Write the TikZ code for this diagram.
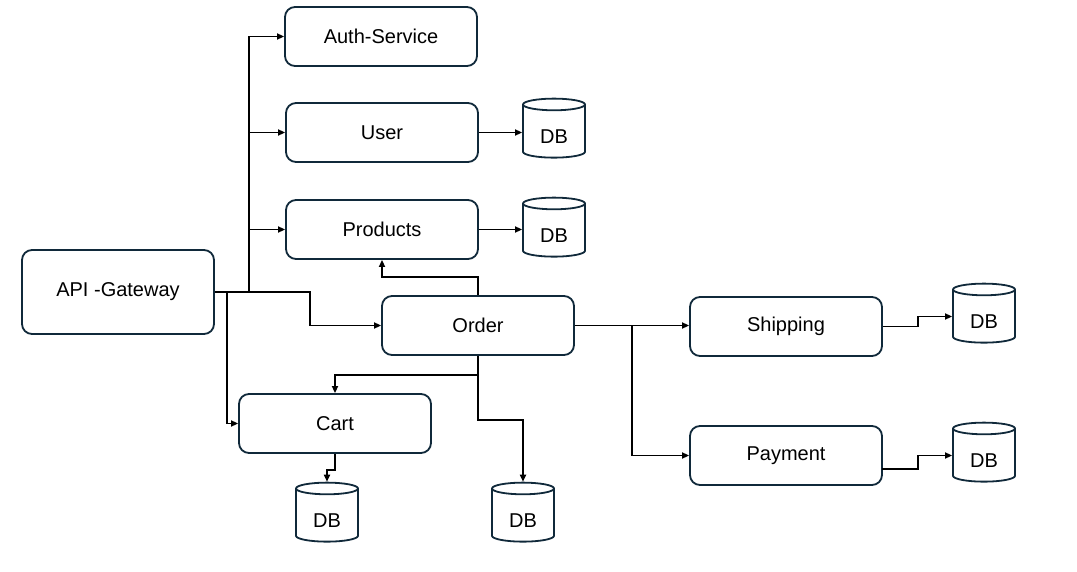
\documentclass[tikz,border=0pt]{standalone}
\usepackage{fontspec}
\setmainfont{Liberation Sans}
\usetikzlibrary{shapes.geometric,arrows.meta}
\definecolor{boxc}{HTML}{10293A}
\newcommand{\dbtext}{\raisebox{-12pt}[0pt][0pt]{DB}}
\begin{document}
\begin{tikzpicture}[x=1pt,y=-1pt,
  svc/.style={draw=boxc,line width=1.8pt,rounded corners=10pt,minimum width=192pt,minimum height=59pt,inner sep=0pt,font=\fontsize{20}{22}\selectfont},
  dbs/.style={draw=boxc,line width=1.8pt,cylinder,shape border rotate=90,aspect=0.42,minimum width=62pt,minimum height=59pt,inner sep=0pt,font=\fontsize{20}{22}\selectfont},
  conn/.style={line width=1.6pt,-{Triangle[length=7pt,width=6pt]}},
  plain/.style={line width=1.6pt}]
\useasboundingbox (0,0) rectangle (1077,572);
\node[svc] (auth) at (381,36.5) {Auth-Service};
\node[svc] (user) at (382,132.5) {User};
\node[svc] (prod) at (382,229.5) {Products};
\node[svc,minimum height=84pt] (api) at (118,292) {API -Gateway};
\node[svc] (order) at (478,325.5) {Order};
\node[svc] (cart) at (335,423.5) {Cart};
\node[svc] (ship) at (786,326.5) {Shipping};
\node[svc] (pay) at (786,455.5) {Payment};
\node[dbs] (dbuser) at (554,131.5) {\dbtext};
\node[dbs] (dbprod) at (554,230.5) {\dbtext};
\node[dbs] (dbship) at (984,316.5) {\dbtext};
\node[dbs] (dbpay) at (984,455.5) {\dbtext};
\node[dbs] (dbcart) at (327,515.5) {\dbtext};
\node[dbs] (dborder) at (523,515.5) {\dbtext};
\coordinate (j1) at (249,292);
\coordinate (j2) at (227,292);
% API gateway fan-out
\draw[plain] (api.east) -- (j1);
\draw[conn] (j1) |- (auth.west);
\draw[conn] (j1) |- (user.west);
\draw[conn] (j1) |- (prod.west);
\draw[conn] (api.east) -- (310,292) |- (order.west);
\draw[conn] (j2) |- (cart.west);
% DB links
\draw[conn] (user.east) -- (user.east -| dbuser.west);
\draw[conn] (prod.east) -- (prod.east -| dbprod.west);
% Order links
\draw[conn] (order.north) -- (478,277) -| (prod.south);
\draw[conn] (order.south) -- (478,375) -| (cart.north);
\draw[conn] (order.south) -- (478,420) -| (dborder.north);
\draw[conn] (cart.south) -- (335,470) -| (dbcart.north);
\draw[conn] (order.east) -- (order.east -| ship.west);
\draw[conn] (632,325.5) |- (pay.west);
\draw[conn] (ship.east) -- (918,326.5) |- (dbship.west);
\draw[conn] (882,469) -- (918,469) |- (dbpay.west);
\end{tikzpicture}
\end{document}
